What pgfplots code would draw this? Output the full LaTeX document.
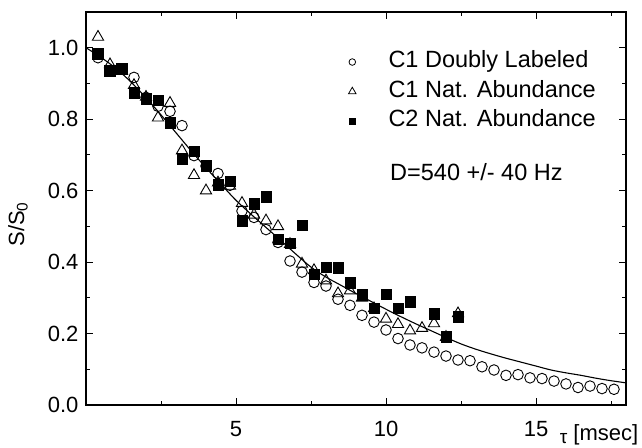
\documentclass[border=0pt]{standalone}
\usepackage{fontspec}
\setmainfont{Liberation Sans}
\usepackage{pgfplots}
\pgfplotsset{compat=1.18}
\begin{document}
\fontsize{22}{26}\selectfont
\begin{tikzpicture}
\path[use as bounding box] (-86pt,-42pt) rectangle (556pt,405pt);
\begin{axis}[
  at={(0pt,0pt)}, anchor=south west,
  scale only axis, width=540pt, height=393pt,
  xmin=0, xmax=18, ymin=0, ymax=1.1,
  xtick={5,10,15}, minor xtick={2.5,7.5,12.5,17.5},
  ytick={0,0.2,0.4,0.6,0.8,1.0}, minor ytick={0.1,0.3,0.5,0.7,0.9},
  tick align=inside, tick pos=both,
  xticklabel pos=bottom, yticklabel pos=left,
  major tick length=7pt, minor tick length=4pt,
  every tick/.style={black, line width=1pt},
  axis line style={line width=1.4pt},
  /pgf/number format/assume math mode=true,
  y tick label style={/pgf/number format/.cd, fixed, fixed zerofill, precision=1, /tikz/.cd},
  tick label style={font=\fontsize{22}{26}\selectfont},
  x tick label style={yshift=-9pt},
  ylabel={S/S\textsubscript{0}},
  ylabel style={at={(axis description cs:-0.126,0.46)}, anchor=center, font=\fontsize{22}{26}\selectfont},
  xlabel={{\fontsize{19}{22}\selectfont\raisebox{-3pt}{τ}} [msec]},
  xlabel style={at={(axis description cs:0.950,-0.076)}, anchor=center, font=\fontsize{22}{26}\selectfont},
  legend image code/.code={\draw[#1] plot coordinates {(0pt,0pt)}; \path (-4pt,0pt) (34pt,0pt);},
  legend style={at={(axis description cs:0.485,0.905)}, anchor=north west, draw=none, fill=none,
    inner sep=0pt, font=\fontsize{23.5}{27}\selectfont, row sep=4.5pt, legend cell align=left,
    nodes={inner sep=2pt, text height=16pt, text depth=5pt},
    /tikz/every odd column/.append style={column sep=0pt}},
]
% fit line
\addplot[black, line width=1.1pt, smooth, forget plot] coordinates {
(0,1.000) (0.5,0.973) (1.0,0.942) (1.5,0.904) (2.0,0.860) (2.5,0.812) (3.0,0.762)
(3.5,0.712) (4.0,0.664) (4.5,0.618) (5.0,0.573) (5.5,0.534) (6.0,0.497) (6.5,0.460)
(7.0,0.422) (7.5,0.386) (8.0,0.358) (8.5,0.335) (9.0,0.312) (9.5,0.290) (10.0,0.268)
(10.5,0.247) (11.0,0.227) (11.5,0.208) (12.0,0.189) (12.5,0.171) (13.0,0.156)
(13.5,0.143) (14.0,0.131) (14.5,0.120) (15.0,0.109) (15.5,0.098) (16.0,0.090)
(16.5,0.083) (17.0,0.075) (17.5,0.068) (18.0,0.062)};
% C1 Doubly Labeled
\addplot[only marks, mark=o, mark size=5.3pt, mark options={line width=0.9pt, fill=white}, forget plot] coordinates {
(0.4,0.972) (0.8,0.935) (1.2,0.940) (1.6,0.917) (2.0,0.861) (2.4,0.836) (2.8,0.822)
(3.2,0.782) (3.6,0.698) (4.0,0.669) (4.4,0.648) (4.8,0.615) (5.2,0.543) (5.6,0.525)
(6.0,0.491) (6.4,0.455) (6.8,0.403) (7.2,0.372) (7.6,0.343) (8.0,0.333) (8.4,0.296)
(8.8,0.279) (9.2,0.251) (9.6,0.232) (10.0,0.210) (10.4,0.186) (10.8,0.168) (11.2,0.160)
(11.6,0.148) (12.0,0.137) (12.4,0.126) (12.8,0.124) (13.2,0.107) (13.6,0.098)
(14.0,0.083) (14.4,0.085) (14.8,0.076) (15.2,0.074) (15.6,0.067) (16.0,0.059)
(16.4,0.049) (16.8,0.053) (17.2,0.046) (17.6,0.044)};
% C1 Nat. Abundance
\addplot[only marks, mark=triangle, mark size=6.5pt, mark options={line width=0.9pt, fill=white}, forget plot] coordinates {
(0.4,1.030) (0.8,0.953) (1.2,0.935) (1.6,0.895) (2.0,0.862) (2.4,0.804) (2.8,0.845)
(3.2,0.712) (3.6,0.643) (4.0,0.600) (4.4,0.622) (4.8,0.613) (5.2,0.565) (5.6,0.532)
(6.0,0.516) (6.4,0.500) (6.8,0.450) (7.2,0.395) (7.6,0.377) (8.0,0.348) (8.4,0.312)
(8.8,0.320) (9.2,0.300) (9.6,0.270) (10.0,0.241) (10.4,0.226) (10.8,0.208) (11.2,0.215)
(11.6,0.228) (12.0,0.190) (12.4,0.256)};
% C2 Nat. Abundance
\addplot[only marks, mark=square*, mark size=5.3pt, mark options={black}, forget plot] coordinates {
(0.4,0.984) (0.8,0.935) (1.2,0.942) (1.6,0.874) (2.0,0.858) (2.4,0.853) (2.8,0.790)
(3.2,0.690) (3.6,0.710) (4.0,0.669) (4.4,0.616) (4.8,0.626) (5.2,0.516) (5.6,0.563)
(6.0,0.583) (6.4,0.464) (6.8,0.453) (7.2,0.503) (7.6,0.366) (8.0,0.386) (8.4,0.384)
(8.8,0.343) (9.2,0.308) (9.6,0.271) (10.0,0.310) (10.4,0.271) (10.8,0.289) (11.6,0.256)
(12.0,0.192) (12.4,0.247)};
\addlegendimage{only marks, mark=o, mark size=3.3pt, mark options={line width=0.8pt}}
\addlegendentry{C1 Doubly Labeled}
\addlegendimage{only marks, mark=triangle, mark size=4.3pt, mark options={line width=0.8pt}}
\addlegendentry{C1 Nat. Abundance}
\addlegendimage{only marks, mark=square*, mark size=3.3pt}
\addlegendentry{C2 Nat. Abundance}
\node[anchor=west, font=\fontsize{23.5}{27}\selectfont, inner sep=0pt] at (axis description cs:0.563,0.593) {D=540 +/- 40 Hz};
\end{axis}
\end{tikzpicture}
\end{document}
